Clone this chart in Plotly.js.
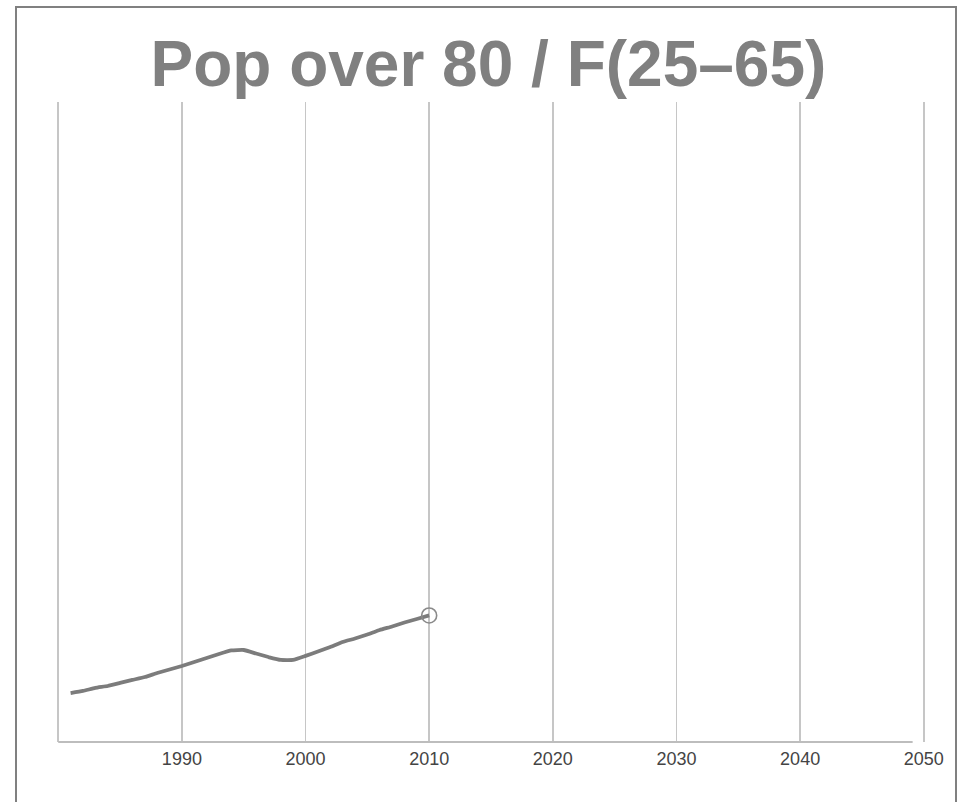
<!DOCTYPE html>
<html>
<head>
<meta charset="utf-8">
<script src="https://cdn.plot.ly/plotly-3.0.1.min.js"></script>
<style>
  html, body { margin: 0; padding: 0; background: #fff; }
  #wrap { position: relative; width: 966px; height: 802px; overflow: hidden; }
  #chart { position: absolute; left: 0; top: 0; width: 966px; height: 802px; }
  #frame { position: absolute; left: 15px; top: 6px; width: 938px; height: 900px;
           border: 2px solid #808080; pointer-events: none; }
</style>
</head>
<body>
<div id="wrap">
  <div id="chart"></div>
  <div id="frame"></div>
</div>
<script>
// Data
const years = [1981, 1982, 1983, 1984, 1985, 1986, 1987, 1988, 1989, 1990,
               1991, 1992, 1993, 1994, 1995, 1996, 1997, 1998, 1999, 2000,
               2001, 2002, 2003, 2004, 2005, 2006, 2007, 2008, 2009, 2010];
const ratio = [0.1306, 0.1319, 0.1338, 0.1350, 0.1369, 0.1388, 0.1406, 0.1431, 0.1453, 0.1475,
               0.1500, 0.1525, 0.1550, 0.1572, 0.1575, 0.1553, 0.1531, 0.1513, 0.1513, 0.1538,
               0.1566, 0.1594, 0.1625, 0.1647, 0.1672, 0.1700, 0.1722, 0.1747, 0.1769, 0.1791];
const tickYears = [1980, 1990, 2000, 2010, 2020, 2030, 2040, 2050];
const tickLabels = ['', '1990', '2000', '2010', '2020', '2030', '2040', '2050'];
const titleText = 'Pop over 80 / F(25\u201365)';

const lastX = years[years.length - 1];
const lastY = ratio[ratio.length - 1];

const traces = [
  {
    x: years, y: ratio, type: 'scatter', mode: 'lines',
    line: { color: '#7c7c7c', width: 3.8, shape: 'spline', smoothing: 0.4 },
    hoverinfo: 'skip', showlegend: false
  },
  {
    x: [lastX], y: [lastY], type: 'scatter', mode: 'markers',
    marker: { symbol: 'circle-open', size: 15, color: '#8a8a8a', line: { width: 1.6, color: '#8a8a8a' } },
    hoverinfo: 'skip', showlegend: false
  }
];

const layout = {
  width: 966, height: 802,
  paper_bgcolor: '#ffffff', plot_bgcolor: '#ffffff',
  margin: { l: 57, r: 41, t: 102, b: 60, pad: 0 },
  font: { family: '"Liberation Sans", Arial, sans-serif', color: '#444' },
  title: {
    text: '<b>' + titleText + '</b>',
    font: { family: '"Liberation Sans", Arial, sans-serif', size: 64, color: '#808080' },
    x: 0.497, xref: 'paper', xanchor: 'center',
    y: 0.921, yref: 'container', yanchor: 'middle'
  },
  xaxis: {
    range: [1979.9, 2050.1],
    tickmode: 'array', tickvals: tickYears, ticktext: tickLabels,
    showgrid: true, gridcolor: '#c6c6c6', gridwidth: 1.6,
    zeroline: false, showline: false, ticks: '',
    tickfont: { size: 18, color: '#444' },
    ticklabelstandoff: 4,
    fixedrange: true
  },
  yaxis: {
    range: [0.1, 0.5],
    showgrid: false, zeroline: false, showline: false,
    showticklabels: false, ticks: '', fixedrange: true
  },
  shapes: [
    { type: 'line', xref: 'x', yref: 'paper', x0: 1980, x1: 2049.1, y0: 0, y1: 0,
      line: { color: '#bdbdbd', width: 2 } }
  ]
};

Plotly.newPlot('chart', traces, layout, { displayModeBar: false, staticPlot: true });
</script>
</body>
</html>
